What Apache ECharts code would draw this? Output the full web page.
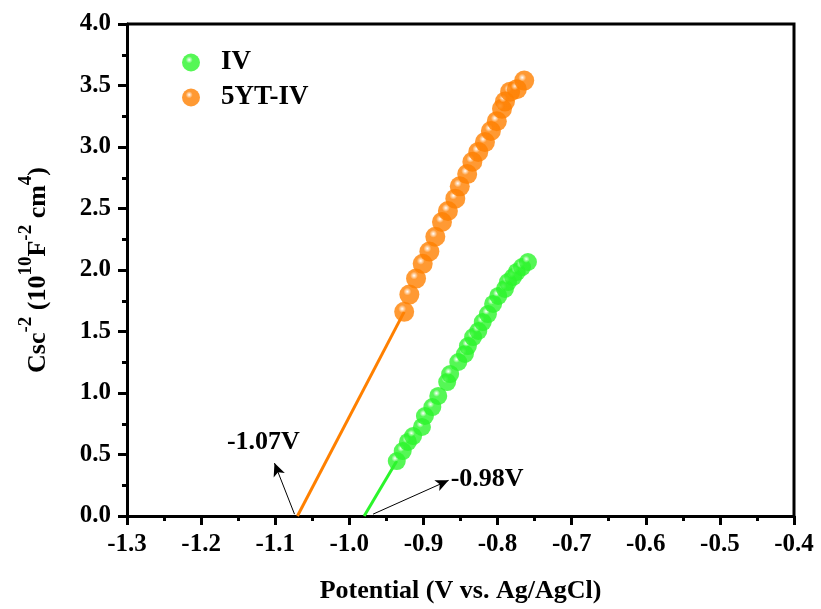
<!DOCTYPE html>
<html>
<head>
<meta charset="utf-8">
<script src="https://cdn.jsdelivr.net/npm/echarts@6/dist/echarts.min.js"></script>
<style>
  html, body { margin: 0; padding: 0; background: #fff; }
  #chart { width: 821px; height: 609px; }
</style>
</head>
<body>
<div id="chart"></div>
<script>
// Mott-Schottky data
var ivX = [-0.936, -0.928, -0.921, -0.914, -0.902, -0.898, -0.888, -0.880, -0.868, -0.864,
           -0.853, -0.844, -0.840, -0.833, -0.826, -0.820, -0.813, -0.806, -0.799, -0.790,
           -0.786, -0.779, -0.774, -0.767, -0.759];
var ivY = [0.447, 0.528, 0.602, 0.650, 0.724, 0.813, 0.886, 0.976, 1.089, 1.154,
           1.252, 1.317, 1.382, 1.455, 1.504, 1.577, 1.642, 1.724, 1.789, 1.846,
           1.902, 1.943, 1.984, 2.024, 2.065];
var ytX = [-0.926, -0.919, -0.910, -0.901, -0.892, -0.884, -0.875, -0.867, -0.857, -0.851,
           -0.841, -0.834, -0.826, -0.817, -0.809, -0.801, -0.794, -0.790, -0.783, -0.774, -0.764];
var ytY = [1.66, 1.80, 1.93, 2.05, 2.15, 2.27, 2.39, 2.48, 2.58, 2.68,
           2.78, 2.88, 2.96, 3.04, 3.13, 3.21, 3.31, 3.37, 3.45, 3.47, 3.54];
// linear fits down to the x intercept
var ivFit = [[-0.98, 0], [-0.936, 0.447]];
var ytFit = [[-1.07, 0], [-0.926, 1.66]];
var xTicks = { min: -1.3, max: -0.4, interval: 0.1 };
var yTicks = { min: 0, max: 4, interval: 0.5 };

function zip(a, b) {
  return a.map(function (v, i) { return [v, b[i]]; });
}
function ball(c) {
  return {
    type: 'radial', x: 0.4, y: 0.35, r: 0.65,
    colorStops: [{ offset: 0, color: '#ffffff' }, { offset: 0.3, color: c }, { offset: 1, color: c }]
  };
}

var font = 'Liberation Serif';
var green = '#2bf52b', orange = '#ff8000';
var txt = { fontFamily: font, fontWeight: 'bold', color: '#000' };

var chart = echarts.init(document.getElementById('chart'));
chart.setOption({
  animation: false,
  grid: { left: 127, top: 24, width: 667, height: 493 },
  legend: {
    left: 177, top: 44, orient: 'vertical', itemGap: 8,
    itemWidth: 50, itemHeight: 18,
    data: [{ name: 'IV', icon: 'circle' }, { name: '5YT-IV', icon: 'circle' }],
    textStyle: Object.assign({ fontSize: 27 }, txt)
  },
  xAxis: {
    type: 'value', min: xTicks.min, max: xTicks.max, interval: xTicks.interval,
    name: 'Potential (V vs. Ag/AgCl)', nameLocation: 'middle', nameGap: 62,
    nameTextStyle: Object.assign({ fontSize: 26 }, txt),
    axisLine: { onZero: false, lineStyle: { color: '#000', width: 3 } },
    axisTick: { inside: false, length: 9, lineStyle: { width: 3 } },
    minorTick: { show: true, splitNumber: 2, length: 5, lineStyle: { color: '#000', width: 3 } },
    axisLabel: Object.assign({ margin: 16, fontSize: 25,
      formatter: function (v) { return v.toFixed(1); } }, txt),
    splitLine: { show: false }
  },
  yAxis: {
    type: 'value', min: yTicks.min, max: yTicks.max, interval: yTicks.interval,
    name: '{b|Csc}{s|-2}{b| (10}{s|10}{b|F}{s|-2}{b| cm}{s|4}{b|)}',
    nameLocation: 'middle', nameGap: 76, nameRotate: 90,
    nameTextStyle: {
      rich: {
        b: Object.assign({ fontSize: 26, verticalAlign: 'bottom', lineHeight: 34 }, txt),
        s: Object.assign({ fontSize: 19, verticalAlign: 'top', lineHeight: 34, padding: [0, 0, 16, 0] }, txt)
      }
    },
    axisLine: { onZero: false, lineStyle: { color: '#000', width: 3 } },
    axisTick: { inside: false, length: 9, lineStyle: { width: 3 } },
    minorTick: { show: true, splitNumber: 2, length: 5, lineStyle: { color: '#000', width: 3 } },
    axisLabel: Object.assign({ margin: 16, fontSize: 25,
      formatter: function (v) { return v.toFixed(1); } }, txt),
    splitLine: { show: false }
  },
  series: [
    {
      name: 'IV-fit', type: 'line', data: ivFit, symbol: 'none',
      lineStyle: { color: green, width: 3 }, z: 1,
      markLine: {
        silent: true, symbol: ['none', 'arrow'], symbolSize: [9, 13],
        lineStyle: { color: '#000', width: 1, type: 'solid' },
        label: { show: false },
        data: [[{ coord: [-0.968, 0.015] }, { coord: [-0.866, 0.29] }]]
      },
      markPoint: {
        symbol: 'circle', symbolSize: 1, itemStyle: { color: 'rgba(0,0,0,0)' },
        label: Object.assign({ show: true, position: 'inside', fontSize: 26, formatter: '-0.98V' }, txt),
        data: [{ coord: [-0.814, 0.30] }]
      }
    },
    {
      name: '5YT-fit', type: 'line', data: ytFit, symbol: 'none',
      lineStyle: { color: orange, width: 3 }, z: 1,
      markLine: {
        silent: true, symbol: ['none', 'arrow'], symbolSize: [9, 13],
        lineStyle: { color: '#000', width: 1, type: 'solid' },
        label: { show: false },
        data: [[{ coord: [-1.074, 0.015] }, { coord: [-1.101, 0.43] }]]
      },
      markPoint: {
        symbol: 'circle', symbolSize: 1, itemStyle: { color: 'rgba(0,0,0,0)' },
        label: Object.assign({ show: true, position: 'inside', fontSize: 26, formatter: '-1.07V' }, txt),
        data: [{ coord: [-1.116, 0.60] }]
      }
    },
    {
      name: 'IV', type: 'scatter', data: zip(ivX, ivY), symbolSize: 18,
      itemStyle: { color: ball(green) }, z: 3
    },
    {
      name: '5YT-IV', type: 'scatter', data: zip(ytX, ytY), symbolSize: 20,
      itemStyle: { color: ball(orange) }, z: 3
    }
  ]
});

// frame on top and right, placed from the grid's own coordinates
var p0 = chart.convertToPixel({ gridIndex: 0 }, [xTicks.min, yTicks.max]);
var p1 = chart.convertToPixel({ gridIndex: 0 }, [xTicks.max, yTicks.min]);
chart.setOption({
  graphic: [{
    type: 'polyline', silent: true,
    shape: { points: [[p0[0], p0[1]], [p1[0], p0[1]], [p1[0], p1[1]]] },
    style: { stroke: '#000', lineWidth: 3, fill: null }
  }]
});
</script>
</body>
</html>
